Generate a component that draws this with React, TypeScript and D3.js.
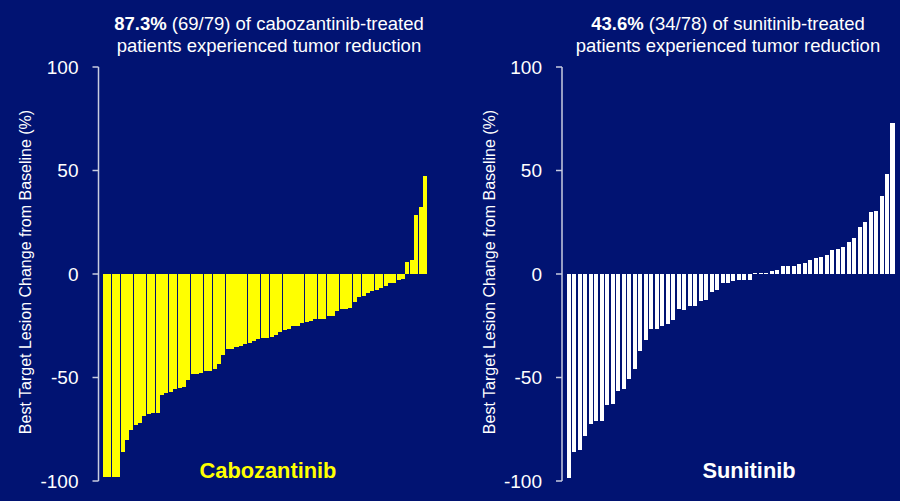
import React from "react";
import * as d3 from "d3";

const cabozantinib: number[] = [
  -98, -98, -98, -98, -86, -80, -75.5, -73, -72, -68.5, -67.5, -67, -67, -58.5, -57.5, -57,
  -55.5, -55, -54.5, -51, -48.5, -48.5, -48, -47, -47, -46, -43.5, -39, -36, -36, -35.5, -35,
  -34, -33.5, -32.5, -31.5, -31, -31, -30.5, -29.5, -28, -27, -26.5, -25, -25, -23.5, -23,
  -22.5, -21.5, -21.5, -21.5, -20.5, -20.5, -18, -17, -17, -16.5, -13.5, -11, -10.5, -9, -8,
  -7.5, -7, -6, -4.5, -4.5, -3, -2.5, 6, 7, 28.5, 32.5, 47.5,
];

const sunitinib: number[] = [
  -98.5, -86, -85, -78.5, -72.5, -71, -71, -63.5, -63, -56.5, -55.5, -50.5, -46, -37, -32,
  -26.5, -26.5, -25, -24, -22, -17, -17.5, -15.5, -15.5, -13, -12.5, -8.5, -7.5, -4.5, -4.5,
  -3.5, -3, -3, -3, 0.5, 0.5, 0.5, 1.5, 2, 4, 4, 4, 5, 5.5, 7, 7.5, 8, 9, 11.5, 12, 13, 15.5,
  17.5, 22.5, 25, 30, 30.5, 37.5, 48.5, 73,
];

const yTicks: number[] = [100, 50, 0, -50, -100];
const yAxisTitle = "Best Target Lesion Change from Baseline (%)";

const BG = "#011372";
const FONT = "Arial, 'Liberation Sans', sans-serif";

type PanelProps = {
  values: number[];
  axisX: number;
  barStart: number;
  barEnd: number;
  padding: number;
  color: string;
  titleBold: string;
  titleRest: string;
  titleLine2: string;
  titleX: number;
  name: string;
  nameX: number;
  axisTitleX: number;
};

const y = d3.scaleLinear().domain([-100, 100]).range([481, 67]);

function Panel(p: PanelProps) {
  const x = d3
    .scaleBand<number>()
    .domain(p.values.map((_, i) => i))
    .range([p.barStart, p.barEnd])
    .paddingInner(p.padding)
    .paddingOuter(0);
  const axisColor = "#c8cce0";
  return (
    <g>
      <text x={p.titleX} y={30} textAnchor="middle" fill="#fff" fontSize={18.5} fontFamily={FONT}>
        <tspan fontWeight="bold">{p.titleBold}</tspan>
        <tspan>{p.titleRest}</tspan>
      </text>
      <text x={p.titleX} y={52} textAnchor="middle" fill="#fff" fontSize={18.5} fontFamily={FONT}>
        {p.titleLine2}
      </text>
      <g shapeRendering="crispEdges">
        {p.values.map((v, i) => (
          <rect
            key={i}
            x={x(i)}
            width={x.bandwidth()}
            y={Math.min(y(v), y(0))}
            height={Math.max(1, Math.abs(y(v) - y(0)))}
            fill={p.color}
          />
        ))}
      </g>
      <line
        x1={p.axisX}
        x2={p.axisX}
        y1={y(100)}
        y2={y(-100)}
        stroke={axisColor}
        strokeWidth={1.5}
      />
      {yTicks.map((t) => (
        <g key={t}>
          <line
            x1={p.axisX - 6}
            x2={p.axisX}
            y1={y(t)}
            y2={y(t)}
            stroke={axisColor}
            strokeWidth={1.5}
          />
          <text
            x={p.axisX - 20}
            y={y(t)}
            dy="0.36em"
            textAnchor="end"
            fill="#fff"
            fontSize={19}
            fontFamily={FONT}
          >
            {t}
          </text>
        </g>
      ))}
      <text
        transform={`translate(${p.axisTitleX},${y(0) - 2}) rotate(-90)`}
        textAnchor="middle"
        dy="0.35em"
        fill="#fff"
        fontSize={16}
        fontFamily={FONT}
      >
        {yAxisTitle}
      </text>
      <text
        x={p.nameX}
        y={478}
        textAnchor="middle"
        fill={p.color}
        fontSize={21.8}
        fontWeight="bold"
        fontFamily={FONT}
      >
        {p.name}
      </text>
    </g>
  );
}

export default function App() {
  return (
    <svg
      width={900}
      height={501}
      style={{ position: "absolute", left: 0, top: 0, display: "block" }}
    >
      <rect x={0} y={0} width={900} height={501} fill={BG} />
      <Panel
        values={cabozantinib}
        axisX={98.5}
        barStart={103}
        barEnd={427}
        padding={0.08}
        color="#ffff00"
        titleBold="87.3%"
        titleRest=" (69/79) of cabozantinib-treated"
        titleLine2="patients experienced tumor reduction"
        titleX={269}
        name="Cabozantinib"
        nameX={268}
        axisTitleX={25}
      />
      <Panel
        values={sunitinib}
        axisX={562}
        barStart={567}
        barEnd={894.5}
        padding={0.27}
        color="#ffffff"
        titleBold="43.6%"
        titleRest=" (34/78) of sunitinib-treated"
        titleLine2="patients experienced tumor reduction"
        titleX={728}
        name="Sunitinib"
        nameX={749}
        axisTitleX={489}
      />
    </svg>
  );
}
